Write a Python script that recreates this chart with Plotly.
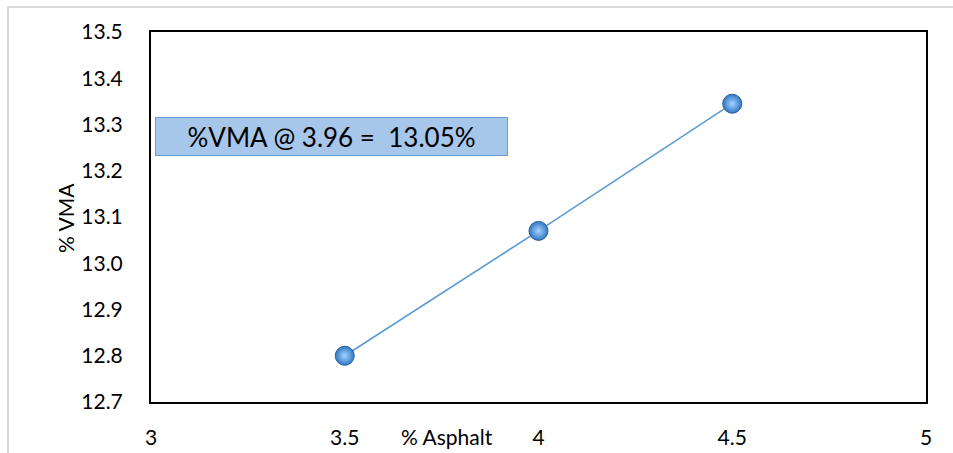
import plotly.graph_objects as go

# Asphalt content (%) and voids in mineral aggregate (%)
asphalt = [3.5, 4.0, 4.5]
vma = [12.80, 13.07, 13.345]

x_ticks = [3, 3.5, 4, 4.5, 5]
y_ticks = [12.7, 12.8, 12.9, 13.0, 13.1, 13.2, 13.3, 13.4, 13.5]
y_tick_text = [f"{v:.1f}" for v in y_ticks]

design_ac = 3.96
design_vma = 13.05
box_text = f"%VMA @ {design_ac:.2f} =\u00a0 {design_vma:.2f}%"

FONT = "Lato, 'Open Sans', sans-serif"

fig = go.Figure()
fig.add_trace(go.Scatter(
    x=asphalt, y=vma, mode="lines+markers",
    line=dict(color="#5B9BD5", width=1.6),
    marker=dict(
        size=19, color="#2F78C4",
        gradient=dict(type="radial", color="#A9D3FF"),
        line=dict(color="#2A5E99", width=1),
    ),
    showlegend=False, hoverinfo="x+y",
))

fig.update_layout(
    width=953, height=453,
    margin=dict(l=151, r=27, t=32, b=51),
    paper_bgcolor="white", plot_bgcolor="white",
    font=dict(family=FONT, size=21, color="#000000"),
    xaxis=dict(
        range=[3, 5], tickvals=x_ticks, ticktext=[f"{v:g}" for v in x_ticks],
        showgrid=False, zeroline=False, automargin=False,
        showline=True, linecolor="#000000", linewidth=2, mirror=True,
        ticks="outside", ticklen=16, tickcolor="rgba(0,0,0,0)",
        tickfont=dict(family=FONT, size=21),
    ),
    yaxis=dict(
        range=[12.7, 13.5], tickvals=y_ticks, ticktext=y_tick_text,
        showgrid=False, zeroline=False, automargin=False,
        showline=True, linecolor="#000000", linewidth=2, mirror=True,
        ticks="outside", ticklen=22, tickcolor="rgba(0,0,0,0)",
        tickfont=dict(family=FONT, size=21),
    ),
    shapes=[
        # light chart-area frame along top and left edges
        dict(type="rect", xref="paper", yref="paper",
             x0=(8 - 151) / 775, x1=(965 - 151) / 775,
             y0=(402 - 470) / 370, y1=(402 - 7) / 370,
             line=dict(color="#D9D9D9", width=2), fillcolor="rgba(0,0,0,0)",
             layer="below"),
    ],
    annotations=[
        dict(text="% Asphalt", xref="paper", yref="paper",
             x=(447 - 151) / 775, y=(402 - 436) / 370,
             showarrow=False, font=dict(family=FONT, size=21),
             xanchor="center", yanchor="middle"),
        dict(text="% VMA", xref="paper", yref="paper",
             x=(65 - 151) / 775, y=(402 - 218) / 370, textangle=-90,
             showarrow=False, font=dict(family=FONT, size=21),
             xanchor="center", yanchor="middle"),
        dict(text=box_text, xref="paper", yref="paper",
             x=(331.5 - 151) / 775, y=(402 - 136.5) / 370,
             showarrow=False, font=dict(family=FONT, size=26, color="#000000"),
             bgcolor="#A6C6EA", bordercolor="#6A9BD2", borderwidth=1,
             width=349, height=35, borderpad=1,
             xanchor="center", yanchor="middle"),
    ],
)

fig.write_html("out.html")
